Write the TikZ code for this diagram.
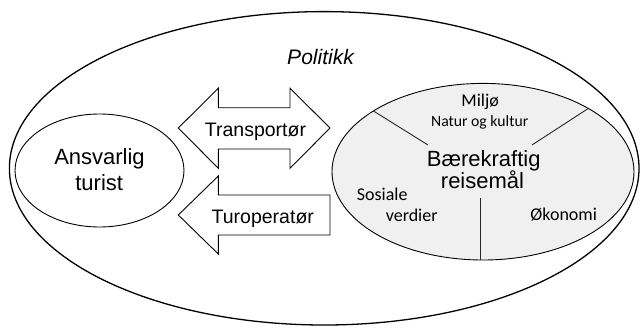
\documentclass[tikz,border=0pt]{standalone}
\usepackage{fontspec}
\setmainfont{Liberation Sans}
\newfontfamily\calib{Carlito}
\usetikzlibrary{shapes.geometric}
\definecolor{lightfill}{HTML}{F0F0F0}
\tikzset{
  oval/.style={ellipse, draw=black, inner sep=0pt, outer sep=0pt},
  bigtxt/.style={font=\fontsize{22}{26}\selectfont, anchor=base, inner sep=0pt},
  arrtxt/.style={font=\fontsize{19.5}{23}\selectfont, anchor=base, inner sep=0pt},
  smalltxt/.style={font=\calib\fontsize{18}{21}\selectfont, anchor=base, inner sep=0pt},
  arrowshape/.style={draw=black, line width=0.9pt, fill=white, line join=miter},
  divider/.style={draw=black!85, line width=0.9pt}
}
\begin{document}
\begin{tikzpicture}[x=1pt,y=-1pt]
\useasboundingbox (0,0) rectangle (640,327);
% outer ellipse
\node[oval, line width=1.3pt, minimum width=629.6pt, minimum height=313.4pt] (outer) at (324.2,168.3) {};
\node[font=\itshape\fontsize{21}{25}\selectfont, anchor=base, inner sep=0pt] (politikk) at (320.5,64) {Politikk};
% left ellipse
\node[oval, line width=0.9pt, minimum width=169pt, minimum height=113pt] (turist) at (99.5,170.5) {};
\node[bigtxt] (ansv) at (99.5,164) {Ansvarlig};
\node[bigtxt] (tur) at (99.2,190.7) {turist};
% right ellipse
\node[oval, line width=0.9pt, fill=lightfill, minimum width=302pt, minimum height=176.6pt] (dest) at (483,171.7) {};
\coordinate (c1) at (428,145);
\coordinate (c2) at (532,145);
\coordinate (c3) at (480.7,198);
\coordinate (c3b) at (480.7,260);
\draw[divider] (dest.151.6) -- (c1);
\draw[divider] (dest.31.2) -- (c2);
\draw[divider] (c3) -- (c3b);
\node[smalltxt] (miljo) at (480.2,106.7) {Miljø};
\node[smalltxt, font=\calib\fontsize{15.7}{19}\selectfont] (natur) at (479.7,126.7) {Natur og kultur};
\node[bigtxt] (baer) at (483.7,166) {Bærekraftig};
\node[bigtxt] (reise) at (482.5,188.3) {reisemål};
\node[smalltxt] (sos) at (382.2,200) {Sosiale};
\node[smalltxt] (verd) at (411.7,221.7) {verdier};
\node[smalltxt] (okon) at (563.7,220) {Økonomi};
% double arrow
\draw[arrowshape] (178.3,128) -- (218.3,88.3) -- (218.3,107.7) -- (290,107.7) -- (290,88.3) -- (330,128)
  -- (290,168.3) -- (290,149) -- (218.3,149) -- (218.3,168.3) -- cycle;
\node[arrtxt] (transp) at (255.5,136.7) {Transportør};
% single arrow
\draw[arrowshape] (178.3,215) -- (218.3,176) -- (218.3,195) -- (330,195) -- (330,235) -- (218.3,235) -- (218.3,254) -- cycle;
\node[arrtxt] (turop) at (262.8,223.3) {Turoperatør};
\end{tikzpicture}
\end{document}
